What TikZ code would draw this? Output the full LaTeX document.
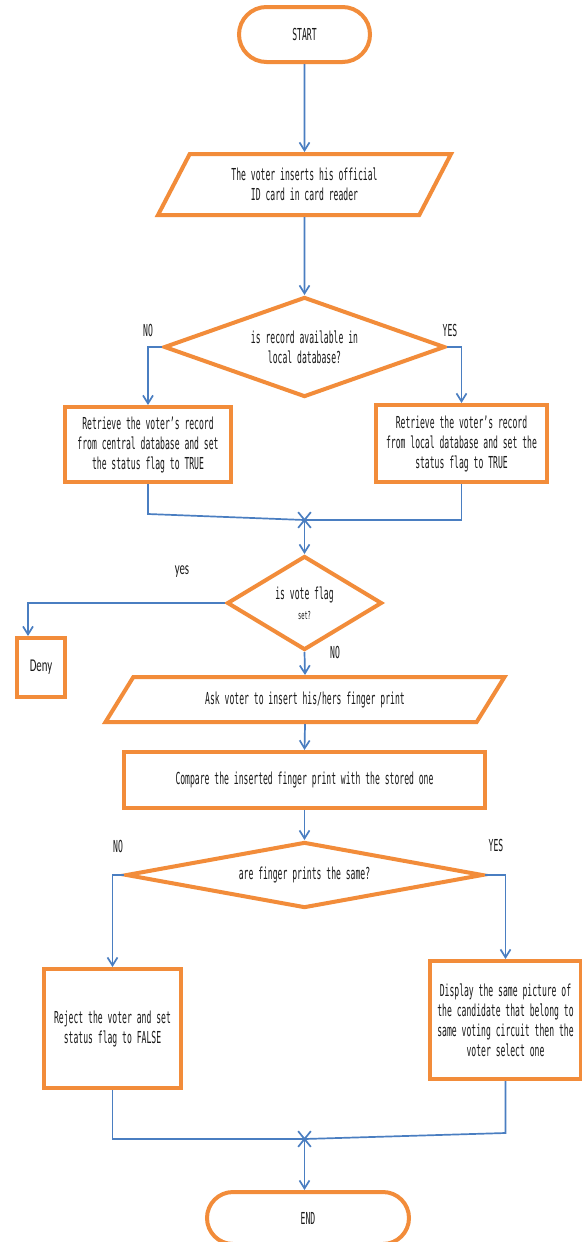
\documentclass[tikz,border=0pt]{standalone}
\usepackage{fontspec}
\usetikzlibrary{shapes.geometric,shapes.misc,arrows.meta}
\newfontfamily\flowmono[FakeStretch=0.49]{DejaVu Sans Mono}
\newfontfamily\flowsans[FakeStretch=0.6]{Carlito}
\definecolor{boxorange}{RGB}{242,140,58}
\definecolor{flowblue}{RGB}{74,126,193}

\begin{document}
\begin{tikzpicture}[x=1pt,y=-1pt,
  every node/.style={font=\flowmono\fontsize{16.5}{20}\selectfont, text=black!90, inner sep=0pt},
  shapeline/.style={draw=boxorange, line width=4pt, fill=white, align=center},
  term/.style={shapeline, rounded rectangle},
  procbox/.style={shapeline, rectangle},
  io/.style={shapeline, trapezium, trapezium stretches body},
  decision/.style={shapeline, diamond},
  link/.style={draw=flowblue, line width=1.7pt},
  arr/.style={link, -{Straight Barb[length=8pt,width=10pt]}},
  junction/.style={draw=flowblue, line width=1.7pt, cross out, minimum width=11pt, minimum height=14pt},
  sanslabel/.style={font=\flowsans\fontsize{18}{20}\selectfont}
]
\useasboundingbox (0,0) rectangle (581,1242);
\fill[white] (0,0) rectangle (581,1242);

% shapes
\node[term, minimum width=131pt, minimum height=55pt] (start) at (304.5,34.5) {START};
\node[io, trapezium left angle=46, trapezium right angle=134, minimum width=293pt, minimum height=61pt] (p1) at (304.5,184.5)
  {The voter inserts his official\\ID card in card reader};
\node[decision, shape aspect=2.81, minimum width=281pt, minimum height=100pt] (d1) at (304.5,347)
  {is record available in\\local database?};
\node[procbox, minimum width=166pt, minimum height=75pt] (b1) at (148,444.5)
  {Retrieve the voter’s record\\from central database and set\\the status flag to TRUE};
\node[procbox, minimum width=171pt, minimum height=77pt] (b2) at (461.5,443.5)
  {Retrieve the voter’s record\\from local database and set the\\status flag to TRUE};
\node[junction] (j1) at (304.5,520) {};
\node[decision, shape aspect=1.65, minimum width=155pt, minimum height=94pt] (d2) at (304.5,603)
  {is vote flag\\{\fontsize{11}{14}\selectfont set?}};
\node[procbox, sanslabel, minimum width=48pt, minimum height=59pt] (deny) at (41,667.5) {Deny};
\node[io, trapezium left angle=30, trapezium right angle=150, minimum width=399pt, minimum height=45pt] (p2) at (305,699.5)
  {Ask voter to insert his/hers finger print};
\node[procbox, minimum width=361pt, minimum height=56pt] (cmp) at (304.5,780)
  {Compare the inserted finger print with the stored one};
\node[decision, shape aspect=5.4, minimum width=357pt, minimum height=66pt] (d3) at (304.5,875)
  {are finger prints the same?};
\node[procbox, minimum width=137pt, minimum height=119pt] (b3) at (112.5,1028.5)
  {Reject the voter and set\\status flag to FALSE};
\node[procbox, minimum width=151pt, minimum height=118pt] (b4) at (505.5,1020)
  {Display the same picture of\\the candidate that belong to\\same voting circuit then the\\voter select one};
\node[junction] (j2) at (304.5,1139) {};
\node[term, minimum width=202pt, minimum height=52pt] (end) at (308,1218) {END};

% branch labels
\node (lno1) at (148,330) {NO};
\node (lyes1) at (450,330) {YES};
\node[sanslabel] (lyes2) at (182,572) {yes};
\node (lno2) at (335,652) {NO};
\node (lno3) at (118,846) {NO};
\node (lyes3) at (496,845) {YES};

% connectors
\draw[arr] (start.south) -- (p1.north);
\draw[arr] (p1.south) -- (d1.north);
\draw[arr] (d1.west) -| (b1.north);
\draw[arr] (d1.east) -| (b2.north);
\draw[link] (b1.south) -- ++(0,30) -- (j1.center);
\draw[link] (b2.south) |- (j1.center);
\draw[arr] (j1.center) -- (d2.north);
\draw[arr] (d2.west) -| ([xshift=-13pt]deny.north);
\draw[arr] (d2.south) -- (p2.north);
\draw[arr] (p2.south) -- (cmp.north);
\draw[arr] (cmp.south) -- (d3.north);
\draw[arr] (d3.west) -| (b3.north);
\draw[arr] (d3.east) -| (b4.north);
\draw[link] (b3.south) |- (j2.center);
\draw[link] (b4.south) -- ++(0,52) -- (j2.center);
\draw[arr] (j2.center) -- (j2.center |- end.north);
\end{tikzpicture}
\end{document}
